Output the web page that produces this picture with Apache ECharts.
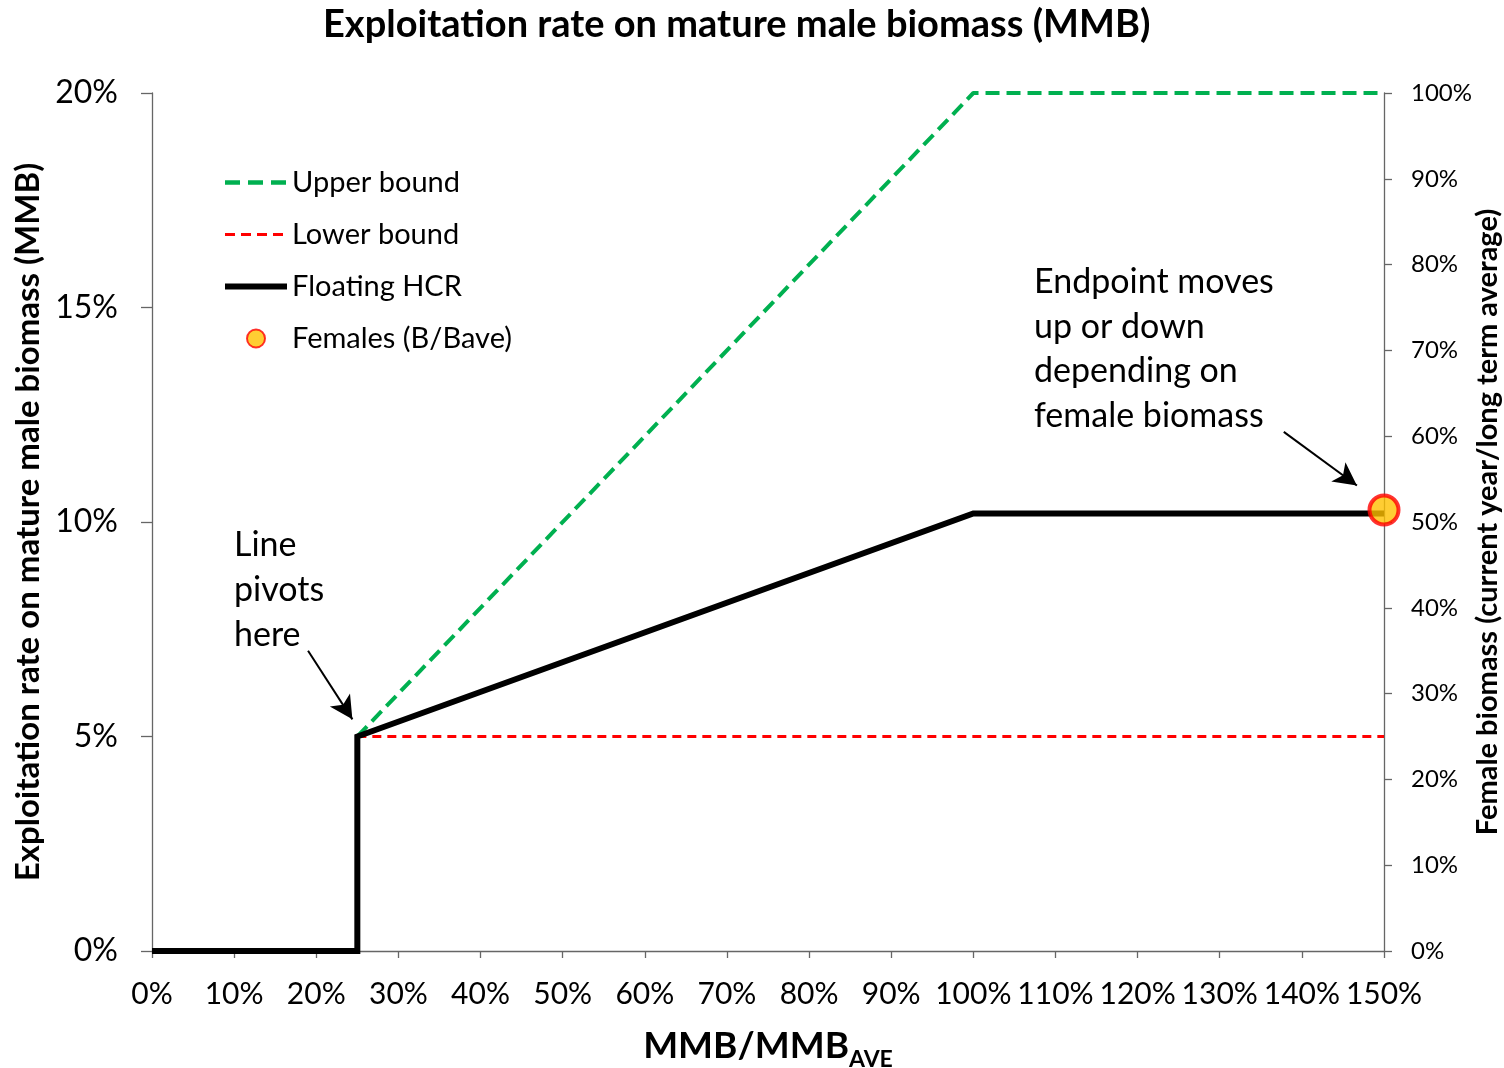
<!DOCTYPE html>
<html>
<head>
<meta charset="utf-8">
<script src="https://cdn.jsdelivr.net/npm/echarts@6/dist/echarts.min.js"></script>
<style>
  html, body { margin: 0; padding: 0; background: #fff; }
  #chart { width: 1504px; height: 1068px; }
</style>
</head>
<body>
<div id="chart"></div>
<script>
// data
const xTicks = [0, 150, 10];          // min, max, step (MMB/MMBave, %)
const upperBound = [[25, 5], [100, 20], [150, 20]];
const lowerBound = [[25, 5], [150, 5]];
const floatingHcr = [[0, 0], [25, 0], [25, 5], [100, 10.2], [150, 10.2]];
const females = [[150, 51.4]];        // right axis, % of long term average
const arrowPivot = [[19.0, 7.0], [24.4, 5.4]];
const arrowEnd = [[137.8, 12.1], [146.7, 10.85]];

const FONT = 'Lato, "Open Sans", sans-serif';
const AXIS_GREY = '#666';

const chart = echarts.init(document.getElementById('chart'));

const arrowLine = (pts) => [
  { coord: pts[0], symbol: 'none' },
  { coord: pts[1], symbol: 'arrow', symbolSize: [18, 23] }
];

chart.setOption({
  animation: false,
  textStyle: { fontFamily: FONT, color: '#000' },
  title: {
    text: 'Exploitation rate on mature male biomass (MMB)',
    left: 323,
    top: 6,
    padding: 0,
    textStyle: { fontSize: 38, fontWeight: 'bold', fontFamily: FONT, color: '#000' }
  },
  grid: { left: 152, right: 120, top: 93, bottom: 117, outerBoundsMode: 'none' },
  legend: {
    orient: 'vertical',
    left: 222,
    top: 168,
    padding: 0,
    itemWidth: 62,
    itemHeight: 18,
    itemGap: 23,
    textStyle: { fontSize: 29, fontFamily: FONT, color: '#000' },
    data: [
      { name: 'Upper bound', itemStyle: { opacity: 0 }, lineStyle: { width: 4.5, type: [15, 8] } },
      { name: 'Lower bound', itemStyle: { opacity: 0 }, lineStyle: { width: 3, type: [10, 6] } },
      { name: 'Floating HCR', itemStyle: { opacity: 0 }, lineStyle: { width: 6 } },
      { name: 'Females (B/Bave)', icon: 'circle' }
    ]
  },
  xAxis: {
    type: 'value',
    min: xTicks[0],
    max: xTicks[1],
    interval: xTicks[2],
    name: '{m|MMB/MMB}{s|AVE}',
    nameLocation: 'middle',
    nameGap: 72,
    nameMoveOverlap: false,
    nameTextStyle: {
      rich: {
        m: { fontSize: 37, fontWeight: 'bold', fontFamily: FONT, color: '#000', verticalAlign: 'bottom', lineHeight: 42 },
        s: { fontSize: 23, fontWeight: 'bold', fontFamily: FONT, color: '#000', verticalAlign: 'bottom', padding: [0, 0, -6, 0] }
      }
    },
    axisLine: { lineStyle: { color: AXIS_GREY, width: 1.3 } },
    axisTick: { show: true, inside: false, length: 7, lineStyle: { color: AXIS_GREY, width: 1.3 } },
    axisLabel: { formatter: '{value}%', fontSize: 30, margin: 28, color: '#000', fontFamily: FONT },
    splitLine: { show: false }
  },
  yAxis: [
    {
      type: 'value',
      min: 0,
      max: 20,
      interval: 5,
      name: 'Exploitation rate on mature male biomass (MMB)',
      nameLocation: 'middle',
      nameGap: 107,
      nameMoveOverlap: false,
      nameTextStyle: { fontSize: 33, fontWeight: 'bold', fontFamily: FONT, color: '#000' },
      axisLine: { show: true, lineStyle: { color: AXIS_GREY, width: 1.3 } },
      axisTick: { show: true, length: 11, lineStyle: { color: AXIS_GREY, width: 1.3 } },
      axisLabel: { formatter: '{value}%', fontSize: 32, margin: 34, color: '#000', fontFamily: FONT },
      splitLine: { show: false }
    },
    {
      type: 'value',
      min: 0,
      max: 100,
      interval: 10,
      position: 'right',
      name: 'Female biomass (current year/long term average)',
      nameLocation: 'middle',
      nameGap: 89,
      nameRotate: 90,
      nameMoveOverlap: false,
      nameTextStyle: { fontSize: 29, fontWeight: 'bold', fontFamily: FONT, color: '#000' },
      axisLine: { show: true, lineStyle: { color: AXIS_GREY, width: 1.3 } },
      axisTick: { show: true, length: 8, lineStyle: { color: AXIS_GREY, width: 1.3 } },
      axisLabel: { formatter: '{value}%', fontSize: 24, margin: 27, color: '#000', fontFamily: FONT },
      splitLine: { show: false }
    }
  ],
  graphic: [
    {
      type: 'text',
      left: 234,
      top: 523,
      style: {
        text: 'Line\npivots\nhere',
        font: '34px ' + FONT,
        lineHeight: 45,
        fill: '#000'
      }
    },
    {
      type: 'text',
      left: 1034,
      top: 260,
      style: {
        text: 'Endpoint moves\nup or down\ndepending on\nfemale biomass',
        font: '34px ' + FONT,
        lineHeight: 44.5,
        fill: '#000'
      }
    }
  ],
  series: [
    {
      name: 'Upper bound',
      type: 'line',
      data: upperBound,
      symbol: 'none',
      clip: false,
      lineStyle: { color: '#00B050', width: 4, type: [14, 7] },
      itemStyle: { color: '#00B050' },
      z: 2
    },
    {
      name: 'Lower bound',
      type: 'line',
      data: lowerBound,
      symbol: 'none',
      clip: false,
      lineStyle: { color: '#FF0000', width: 3, type: [9, 6] },
      itemStyle: { color: '#FF0000' },
      z: 2
    },
    {
      name: 'Floating HCR',
      type: 'line',
      data: floatingHcr,
      symbol: 'none',
      clip: false,
      lineStyle: { color: '#000', width: 6, join: 'miter' },
      itemStyle: { color: '#000' },
      z: 3,
      markLine: {
        silent: true,
        animation: false,
        label: { show: false },
        lineStyle: { color: '#000', width: 2, type: 'solid' },
        data: [arrowLine(arrowPivot), arrowLine(arrowEnd)]
      }
    },
    {
      name: 'Females (B/Bave)',
      type: 'scatter',
      yAxisIndex: 1,
      data: females,
      symbol: 'circle',
      symbolSize: 29,
      clip: false,
      itemStyle: { color: '#FFC000', borderColor: '#FF0000', borderWidth: 4 },
      z: 5
    }
  ]
});
</script>
</body>
</html>
